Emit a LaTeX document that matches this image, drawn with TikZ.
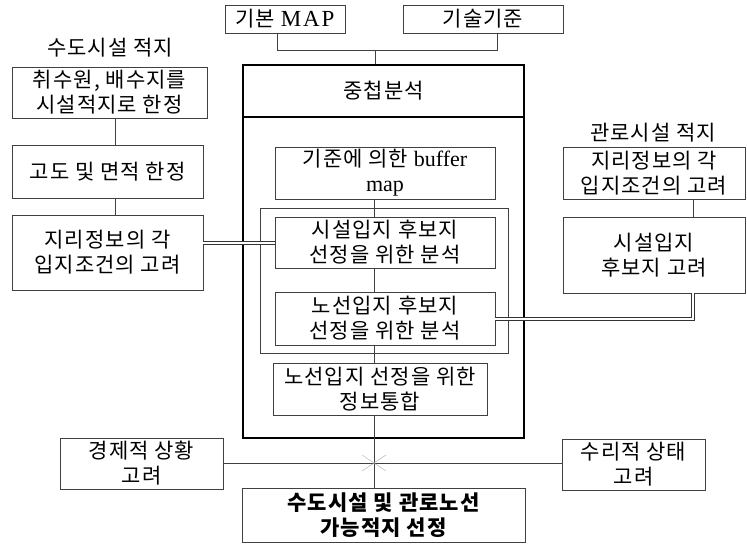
\documentclass[tikz,border=0pt]{standalone}
\usepackage{fontspec}
\usetikzlibrary{calc}
\setmainfont[LetterSpace=5]{Noto Sans CJK KR}
\newfontfamily\lat{Liberation Serif}
\newfontfamily\latw[LetterSpace=8]{Liberation Serif}
\begin{document}
\begin{tikzpicture}[x=1pt,y=-1pt,
  every node/.style={font=\fontsize{21}{25}\selectfont, align=center, inner sep=0pt},
  box/.style={draw=black!75, line width=0.6pt, minimum width=#1},
  conn/.style={draw=black!75, line width=0.6pt},
  dbl/.style={draw=black!80, line width=0.8pt, double=white, double distance=2pt},
  mainbox/.style={draw=black, line width=1.6pt}]
\useasboundingbox (0,0) rectangle (747,547);

% top inputs
\node[box=120, minimum height=28] (top1) at (285,19) {기본 {\latw\fontsize{23}{25}\selectfont MAP}};
\node[box=160, minimum height=28] (top2) at (483,19) {기술기준};
\coordinate (ja) at (277,50);
\coordinate (jb) at (497,50);
\coordinate (jc) at (375,50);
\draw[conn] (top1.south -| ja) -- (ja) -- (jb) -- (top2.south -| jb);

% main box
\node[mainbox, minimum width=281, minimum height=373] (main) at (383.5,251.5) {};
\coordinate (hy) at (0,117);
\draw[line width=1.2pt] (main.west |- hy) -- (main.east |- hy);
\node (hdr) at (383.5,91) {중첩분석};
\draw[conn] (jc) -- (main.north -| jc);

% inner group
\node[draw=black!75, line width=0.6pt, minimum width=248, minimum height=145] (grp) at (384,280.5) {};
\node[box=220, minimum height=52] (buf) at (385,173) {기준에 의한 {\lat\fontsize{22}{25}\selectfont buffer}\\{\lat\fontsize{22}{25}\selectfont map}};
\node[box=220, minimum height=51] (s1) at (385,242.5) {시설입지 후보지\\선정을 위한 분석};
\node[box=220, minimum height=53] (s2) at (385,318.5) {노선입지 후보지\\선정을 위한 분석};
\node[box=214, minimum height=52] (s3) at (380,389) {노선입지 선정을 위한\\정보통합};

\coordinate (ci) at (374,0);
\coordinate (junc) at (374,463);
\draw[conn] (buf.south -| ci) -- (s1.north -| ci);
\draw[conn] (s1.south -| ci) -- (s2.north -| ci);
\draw[conn] (s2.south -| ci) -- (s3.north -| ci);
\draw[conn] (s3.south -| ci) -- (junc);

% left column
\node (t1) at (110,48) {수도시설 적지};
\node[box=195, minimum height=51] (b1) at (109.5,92.5) {취수원, 배수지를\\시설적지로 한정};
\node[box=191, minimum height=53] (b2) at (107.5,171.5) {고도 및 면적 한정};
\node[box=191, minimum height=75] (b3) at (107.5,252.5) {지리정보의 각\\입지조건의 고려};
\coordinate (cl) at (115,0);
\draw[conn] (b1.south -| cl) -- (b2.north -| cl);
\draw[conn] (b2.south -| cl) -- (b3.north -| cl);
\coordinate (dl) at (0,243);
\draw[dbl] (b3.east |- dl) -- (s1.west |- dl);

% right column
\node (t2) at (653,133) {관로시설 적지};
\node[box=182, minimum height=52] (r1) at (654,173) {지리정보의 각\\입지조건의 고려};
\node[box=182, minimum height=76] (r2) at (654,255) {시설입지\\후보지 고려};
\coordinate (cr) at (693,0);
\draw[conn] (r1.south -| cr) -- (r2.north -| cr);
\coordinate (dr) at (693,319);
\draw[dbl] (s2.east |- dr) -- (dr) -- (r2.south -| dr);

% bottom
\node[box=163, minimum height=51] (e1) at (141.5,463.5) {경제적 상황\\고려};
\node[box=143, minimum height=51] (e2) at (633.5,464.5) {수리적 상태\\고려};
\node[box=283, minimum height=54, font=\bfseries\fontsize{21}{25}\selectfont] (fin) at (383.5,515) {수도시설 및 관로노선\\가능적지 선정};
\draw[conn] (e1.east |- junc) -- (e2.west |- junc);
\draw[conn] (junc) -- (fin.north -| junc);
\draw[black!35, line width=0.4pt] ($(junc)+(-12,-8)$) -- ($(junc)+(12,8)$);
\draw[black!35, line width=0.4pt] ($(junc)+(-12,8)$) -- ($(junc)+(12,-8)$);
\end{tikzpicture}
\end{document}
